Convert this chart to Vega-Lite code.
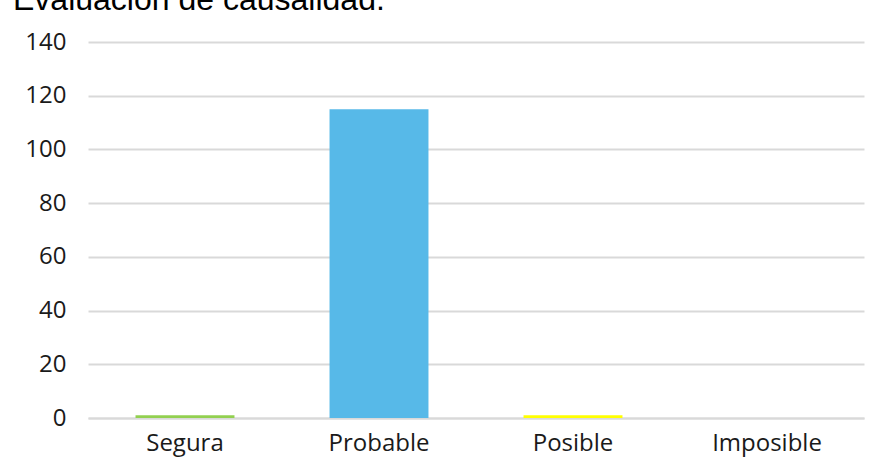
{
  "$schema": "https://vega.github.io/schema/vega-lite/v6.json",
  "width": 776,
  "height": 376,
  "autosize": {"type": "none"},
  "padding": {"left": 88, "top": 42, "right": 15, "bottom": 53},
  "background": "white",
  "title": {
    "text": "Evaluación de causalidad.",
    "anchor": "start",
    "frame": "group",
    "font": "Liberation Sans",
    "fontSize": 32,
    "fontWeight": "normal",
    "color": "#000000",
    "baseline": "alphabetic",
    "offset": 0,
    "dy": 12,
    "dx": -75
  },
  "data": {
    "values": [
      {"categoria": "Segura", "casos": 1},
      {"categoria": "Probable", "casos": 115},
      {"categoria": "Posible", "casos": 1},
      {"categoria": "Imposible", "casos": 0}
    ]
  },
  "mark": {"type": "bar"},
  "encoding": {
    "x": {
      "field": "categoria",
      "type": "nominal",
      "sort": null,
      "title": null,
      "scale": {"paddingInner": 0.49, "paddingOuter": 0.245},
      "axis": {
        "labelAngle": 0,
        "labelFont": "Open Sans",
        "labelFontSize": 24,
        "labelColor": "#1a1a1a",
        "labelPadding": 13,
        "ticks": false,
        "domainColor": "#d9d9d9",
        "domainWidth": 2,
        "grid": false
      }
    },
    "y": {
      "field": "casos",
      "type": "quantitative",
      "title": null,
      "scale": {"domain": [0, 140], "nice": false},
      "axis": {
        "values": [0, 20, 40, 60, 80, 100, 120, 140],
        "labelFont": "Open Sans",
        "labelFontSize": 24,
        "labelColor": "#1a1a1a",
        "labelPadding": 22,
        "ticks": false,
        "domain": false,
        "gridColor": "#d9d9d9",
        "gridWidth": 2
      }
    },
    "color": {
      "field": "categoria",
      "type": "nominal",
      "legend": null,
      "scale": {
        "domain": ["Segura", "Probable", "Posible", "Imposible"],
        "range": ["#92d050", "#57b9e8", "#ffff00", "#a5a5a5"]
      }
    }
  },
  "config": {"view": {"stroke": null}}
}
